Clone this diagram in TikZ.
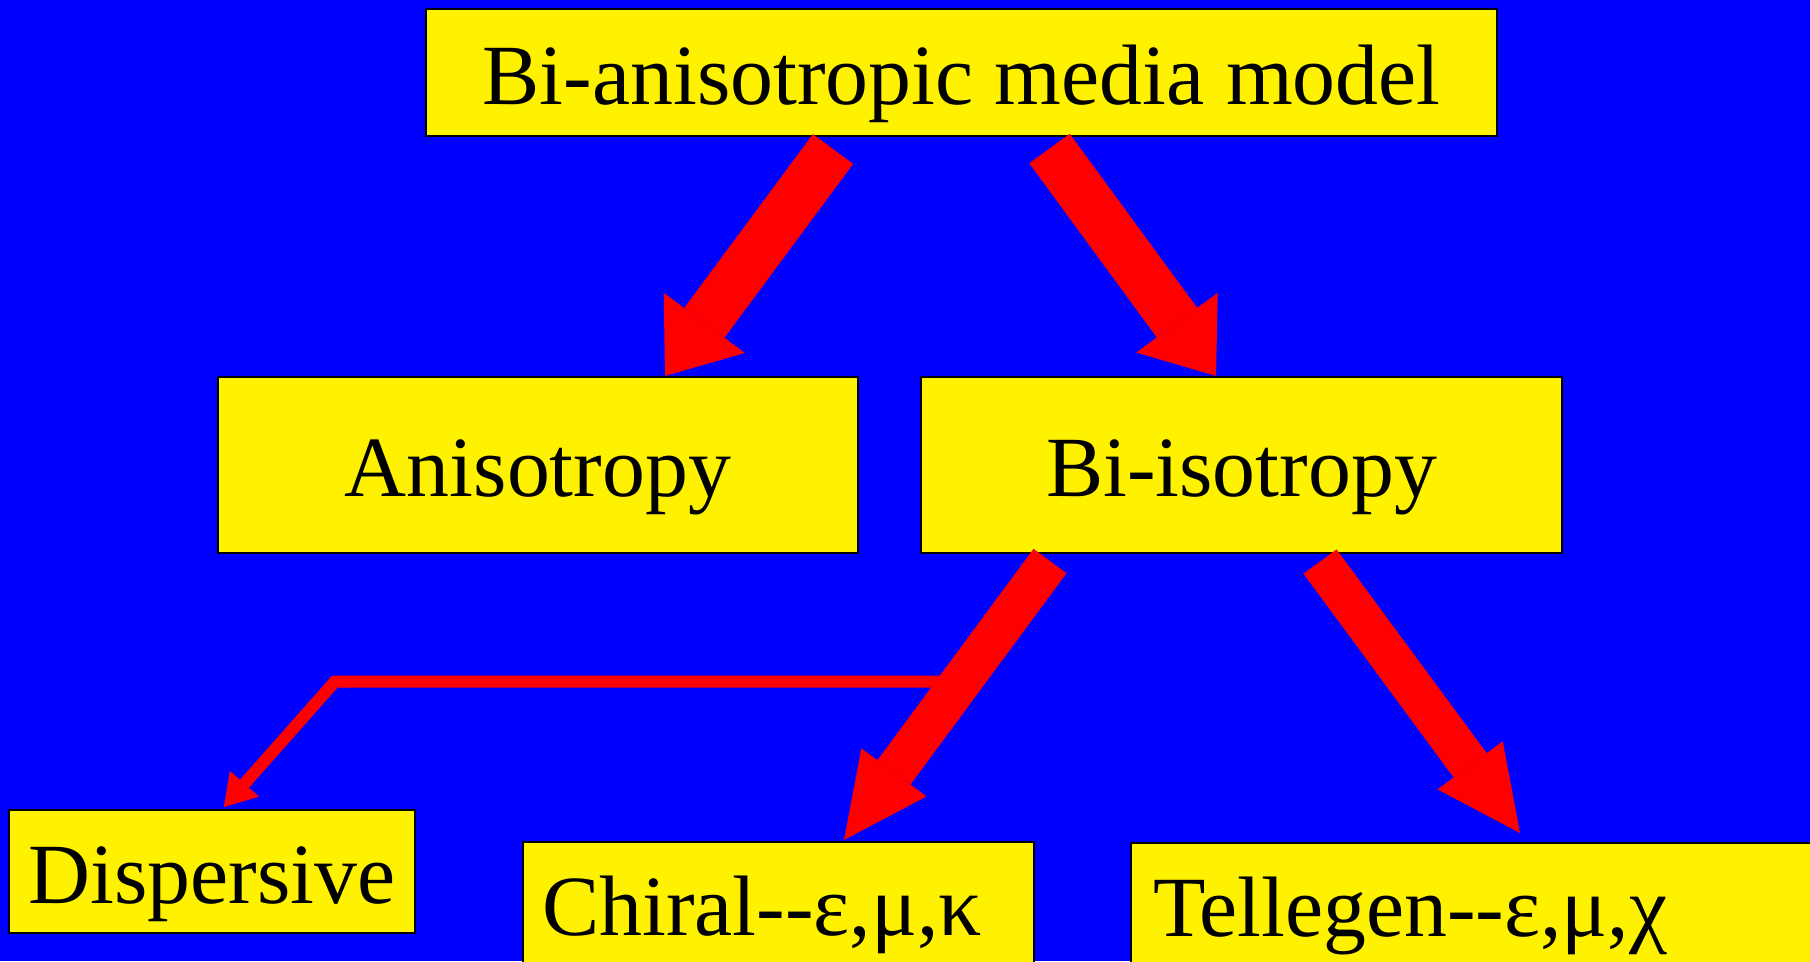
\documentclass[tikz,border=0pt]{standalone}
\usepackage{fontspec}
\setmainfont{Liberation Serif}
\usetikzlibrary{arrows.meta,calc}
\tikzset{box/.style={draw=black,line width=.2mm,fill=yellow,inner sep=0pt,font=\fontsize{24.4}{29}\selectfont,text height=7.7mm,text depth=1.4mm},
leftbox/.style={box,anchor=north west,align=left,minimum height=12.3mm},
bigarrow/.style={red,line width=5mm,-{Triangle[length=6.6mm,width=10.1mm,line width=0pt]}},
midarrow/.style={red,line width=4.1mm,-{Triangle[length=8.4mm,width=8.1mm,line width=0pt]}},
thinarrow/.style={red,line width=1.2mm,line join=miter,-{Triangle[length=3.1mm,width=3.9mm,line width=0pt]}}}
\begin{document}
\begin{tikzpicture}[x=.01cm,y=-.01cm]
\useasboundingbox(0,0)rectangle(1810,961);\fill[blue](0,0)rectangle(1810,961);\clip(0,0)rectangle(1810,961);
\node[box,minimum width=107.1mm,minimum height=12.7mm](model)at(961.5,72.5){Bi-anisotropic media model};
\node[box,minimum width=64mm,minimum height=17.6mm](aniso)at(538,465){Anisotropy};
\node[box,minimum width=64mm,minimum height=17.6mm](biiso)at(1241.5,465){Bi-isotropy};
\node[box,minimum width=40.6mm,minimum height=12.3mm](disp)at(212,871.5){Dispersive};
\node[leftbox,text width=47.3mm,inner xsep=1.9mm](chiral)at(522,841){Chiral\mbox{-}\mbox{-}ε,μ,κ};
\node[leftbox,text width=67.6mm,inner xsep=2.2mm](tell)at(1130,842){Tellegen\mbox{-}\mbox{-}ε,μ,χ};
\coordinate(ctail)at($(biiso.south)+(-191.5,7)$);\coordinate(ctip)at($(chiral.north west)+(322,-1)$);
\coordinate(branch)at($(ctail)!.432!(ctip)$);\coordinate(bend)at($(disp.north west)+(327,-129)$);
\draw[thinarrow](branch)--(bend|-branch)--($(disp.north west)+(216,-2)$);
\draw[bigarrow]($(model.south)+(-128.5,12)$)--($(aniso.north)+(127,0)$);
\draw[bigarrow]($(model.south)+(88,11.5)$)--($(biiso.north)+(-25.5,0)$);
\draw[midarrow](ctail)--(ctip);
\draw[midarrow]($(biiso.south)+(78.5,7.5)$)--($(tell.north west)+(390,-9)$);
\end{tikzpicture}
\end{document}
